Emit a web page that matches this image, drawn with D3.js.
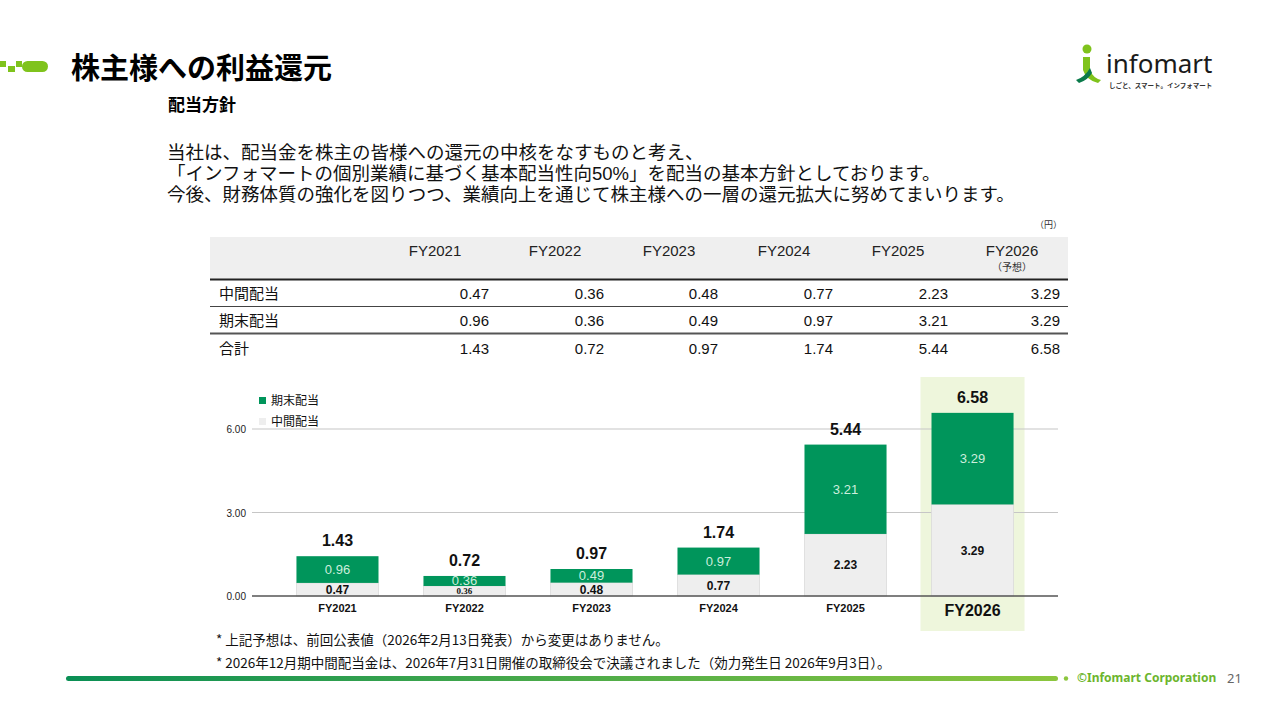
<!DOCTYPE html>
<html>
<head>
<meta charset="utf-8">
<script src="https://cdn.jsdelivr.net/npm/d3@7"></script>
<style>
  body { margin: 0; background: #fff; position: relative; }
  svg { display: block; }
  .jp { font-family: "Noto Sans CJK JP", "Noto Sans", sans-serif; }
  .num { font-family: "Liberation Sans", Arial, sans-serif; }
  #intro { position: absolute; left: 167px; top: 142px; font-size: 18.5px; line-height: 21px;
           font-family: "Liberation Sans", "Noto Sans CJK JP", sans-serif;
           color: #111; white-space: nowrap; margin: 0; }
</style>
</head>
<body>
<svg id="body" width="1280" height="720"></svg>
<script>
let body = d3.select("#body");

// dividend per share (円)
let years = ["FY2021", "FY2022", "FY2023", "FY2024", "FY2025", "FY2026"];
let interim = [0.47, 0.36, 0.48, 0.77, 2.23, 3.29];
let yearEnd = [0.96, 0.36, 0.49, 0.97, 3.21, 3.29];
let totals = [1.43, 0.72, 0.97, 1.74, 5.44, 6.58];
let yTicks = [0, 3, 6];
let rowLabels = ["中間配当", "期末配当", "合計"];
let notes = [
  "* 上記予想は、前回公表値（2026年2月13日発表）から変更はありません。",
  "* 2026年12月期中間配当金は、2026年7月31日開催の取締役会で決議されました（効力発生日 2026年9月3日）。"
];
let intro = [
  "当社は、配当金を株主の皆様への還元の中核をなすものと考え、",
  "「インフォマートの個別業績に基づく基本配当性向50%」を配当の基本方針としております。",
  "今後、財務体質の強化を図りつつ、業績向上を通じて株主様への一層の還元拡大に努めてまいります。"
];

let green = "#00955b";
let lime = "#7fc31c";

// ---- header ----
body.append("rect").attr("x", 0).attr("y", 61).attr("width", 6).attr("height", 6).attr("fill", lime);
body.append("rect").attr("x", 8).attr("y", 66).attr("width", 7).attr("height", 6).attr("fill", lime);
body.append("rect").attr("x", 16).attr("y", 61).attr("width", 6).attr("height", 6).attr("fill", lime);
body.append("rect").attr("x", 22).attr("y", 61).attr("width", 26).attr("height", 11).attr("rx", 5.5).attr("fill", lime);

body.append("text").attr("class", "jp")
    .attr("x", 71).attr("y", 79)
    .attr("font-size", 29).attr("font-weight", "bold")
    .text("株主様への利益還元");

body.append("text").attr("class", "jp")
    .attr("x", 168).attr("y", 111)
    .attr("font-size", 17).attr("font-weight", "bold")
    .text("配当方針");

// intro paragraph as html lines
d3.select("body").append("div")
    .attr("id", "intro")
    .selectAll("div")
    .data(intro)
    .enter()
    .append("div")
    .text(d => d);

// logo
let logo = body.append("g");
logo.append("circle").attr("cx", 1087).attr("cy", 49).attr("r", 4.5).attr("fill", lime);
logo.append("path")
    .attr("d", "M1083,57 L1090,57 L1090,70 Q1093,78 1101,80 L1098,83 Q1086,80 1083,70 Z")
    .attr("fill", lime);
logo.append("path")
    .attr("d", "M1090,68 Q1085,77 1076,80 L1079,83 Q1088,80 1092,73 Z")
    .attr("fill", "#0a7a4a");
logo.append("text")
    .attr("x", 1106).attr("y", 73)
    .attr("font-family", "'Noto Sans', sans-serif")
    .attr("font-size", 26).attr("fill", "#1a1a1a")
    .text("infomart");
logo.append("text").attr("class", "jp")
    .attr("x", 1109).attr("y", 88)
    .attr("font-size", 6.5).attr("font-weight", "bold").attr("fill", "#333")
    .text("しごと、スマート。インフォマート");

// ---- table ----
let colRight = [489, 604, 718, 833, 948, 1060];
let headCenter = [435, 555, 669, 784, 898, 1012];
let tableRows = [interim, yearEnd, totals];

body.append("text").attr("class", "jp")
    .attr("x", 1062).attr("y", 228).attr("text-anchor", "end")
    .attr("font-size", 9).attr("fill", "#333")
    .text("（円）");

body.append("rect").attr("x", 210).attr("y", 237).attr("width", 858).attr("height", 42).attr("fill", "#efefef");

body.selectAll(".head")
    .data(years)
    .enter()
    .append("text")
    .attr("class", "num head")
    .attr("x", (d, i) => headCenter[i])
    .attr("y", 256)
    .attr("text-anchor", "middle")
    .attr("font-size", 15).attr("fill", "#222")
    .text(d => d);

body.append("text").attr("class", "jp")
    .attr("x", 1012).attr("y", 271).attr("text-anchor", "middle")
    .attr("font-size", 10).attr("fill", "#333")
    .text("（予想）");

body.append("line").attr("x1", 210).attr("x2", 1068).attr("y1", 279.5).attr("y2", 279.5)
    .attr("stroke", "#222").attr("stroke-width", 2);
body.append("line").attr("x1", 210).attr("x2", 1068).attr("y1", 306.5).attr("y2", 306.5)
    .attr("stroke", "#444").attr("stroke-width", 1.2);
body.append("line").attr("x1", 210).attr("x2", 1068).attr("y1", 333.5).attr("y2", 333.5)
    .attr("stroke", "#555").attr("stroke-width", 2);

let rowY = [299, 326, 354];
rowLabels.forEach((lab, r) => {
  body.append("text").attr("class", "jp")
      .attr("x", 219).attr("y", rowY[r])
      .attr("font-size", 15).attr("fill", "#111")
      .text(lab);
  body.selectAll(".cell" + r)
      .data(tableRows[r])
      .enter()
      .append("text")
      .attr("class", "num cell" + r)
      .attr("x", (d, i) => colRight[i])
      .attr("y", rowY[r])
      .attr("text-anchor", "end")
      .attr("font-size", 15).attr("fill", "#111")
      .text(d => d.toFixed(2));
});

// ---- chart ----
let x = d3.scaleBand()
          .domain(years)
          .range([252, 1058])
          .paddingInner(0.354)
          .paddingOuter(0.35);

let y = d3.scaleLinear()
          .domain([0, 6])
          .range([596, 429]);

let bw = x.bandwidth();
let last = years[years.length - 1];

// highlight for forecast year
body.append("rect")
    .attr("x", x(last) - 11).attr("y", 377)
    .attr("width", bw + 22).attr("height", 254)
    .attr("fill", "#eef6dc");

body.selectAll(".grid")
    .data(yTicks.filter(d => d > 0))
    .enter()
    .append("line")
    .attr("x1", 252).attr("x2", 1058)
    .attr("y1", d => y(d)).attr("y2", d => y(d))
    .attr("stroke", "#c6c6c6").attr("stroke-width", 1.2);

body.selectAll(".ytick")
    .data(yTicks)
    .enter()
    .append("text")
    .attr("class", "num")
    .attr("x", 246).attr("y", d => y(d) + 4)
    .attr("text-anchor", "end")
    .attr("font-size", 10).attr("fill", "#222")
    .text(d => d.toFixed(2));

// interim (bottom)
body.selectAll(".barI")
    .data(years)
    .enter()
    .append("rect")
    .attr("x", d => x(d))
    .attr("y", (d, i) => y(interim[i]))
    .attr("width", bw)
    .attr("height", (d, i) => y(0) - y(interim[i]))
    .attr("fill", "#eeeeee")
    .attr("stroke", "#dadada").attr("stroke-width", 0.8);

// year-end (top)
body.selectAll(".barE")
    .data(years)
    .enter()
    .append("rect")
    .attr("x", d => x(d))
    .attr("y", (d, i) => y(interim[i] + yearEnd[i]))
    .attr("width", bw)
    .attr("height", (d, i) => y(interim[i]) - y(interim[i] + yearEnd[i]))
    .attr("fill", green);

body.append("line").attr("x1", 252).attr("x2", 1058).attr("y1", y(0)).attr("y2", y(0))
    .attr("stroke", "#555").attr("stroke-width", 1.5);

// labels inside bars
body.selectAll(".labI")
    .data(years)
    .enter()
    .append("text")
    .attr("x", d => x(d) + bw / 2)
    .attr("y", (d, i) => (y(0) + y(interim[i])) / 2 + (i === 1 ? 3 : 4.5))
    .attr("text-anchor", "middle")
    .attr("font-family", (d, i) => i === 1 ? "'Liberation Serif', serif" : "'Liberation Sans', Arial, sans-serif")
    .attr("font-size", (d, i) => i === 1 ? 9 : 12)
    .attr("font-weight", "bold").attr("fill", "#111")
    .text((d, i) => interim[i].toFixed(2));

body.selectAll(".labE")
    .data(years)
    .enter()
    .append("text")
    .attr("class", "num")
    .attr("x", d => x(d) + bw / 2)
    .attr("y", (d, i) => (y(interim[i]) + y(interim[i] + yearEnd[i])) / 2 + 4.5)
    .attr("text-anchor", "middle")
    .attr("font-size", 13).attr("fill", "#cdeedd")
    .text((d, i) => yearEnd[i].toFixed(2));

body.selectAll(".labT")
    .data(years)
    .enter()
    .append("text")
    .attr("class", "num")
    .attr("x", d => x(d) + bw / 2)
    .attr("y", (d, i) => y(totals[i]) - 10)
    .attr("text-anchor", "middle")
    .attr("font-size", 16).attr("font-weight", "bold").attr("fill", "#111")
    .text((d, i) => totals[i].toFixed(2));

body.selectAll(".xlab")
    .data(years)
    .enter()
    .append("text")
    .attr("class", "num")
    .attr("x", d => x(d) + bw / 2)
    .attr("y", d => d === last ? 616 : 612)
    .attr("text-anchor", "middle")
    .attr("font-size", d => d === last ? 16 : 11)
    .attr("font-weight", "bold").attr("fill", "#111")
    .text(d => d);

// legend
let legend = [["期末配当", green], ["中間配当", "#eeeeee"]];
body.selectAll(".legR")
    .data(legend)
    .enter()
    .append("rect")
    .attr("x", 259).attr("y", (d, i) => 397 + i * 21)
    .attr("width", 7).attr("height", 7)
    .attr("fill", d => d[1]);
body.selectAll(".legT")
    .data(legend)
    .enter()
    .append("text")
    .attr("class", "jp")
    .attr("x", 271).attr("y", (d, i) => 405 + i * 21)
    .attr("font-size", 12).attr("fill", "#111")
    .text(d => d[0]);

// ---- notes & footer ----
body.selectAll(".note")
    .data(notes)
    .enter()
    .append("text")
    .attr("class", "jp")
    .attr("x", 216).attr("y", (d, i) => 645 + i * 23)
    .attr("font-size", 13.5).attr("fill", "#111")
    .text(d => d);

let grad = body.append("defs").append("linearGradient").attr("id", "foot");
grad.append("stop").attr("offset", "0%").attr("stop-color", "#0a8f55");
grad.append("stop").attr("offset", "100%").attr("stop-color", "#8cc63e");
body.append("rect").attr("x", 66).attr("y", 676).attr("width", 992).attr("height", 5)
    .attr("rx", 2.5).attr("fill", "url(#foot)");
body.append("circle").attr("cx", 1066).attr("cy", 678.5).attr("r", 2.2).attr("fill", "#8cc63e");
body.append("text")
    .attr("x", 1077).attr("y", 682)
    .attr("font-family", "'Noto Sans', sans-serif")
    .attr("font-size", 12).attr("font-weight", "bold").attr("fill", "#6cb52d")
    .text("©Infomart Corporation");
body.append("text")
    .attr("x", 1227).attr("y", 683)
    .attr("font-family", "'Noto Sans', sans-serif")
    .attr("font-size", 13).attr("fill", "#666")
    .text("21");
</script>
</body>
</html>
